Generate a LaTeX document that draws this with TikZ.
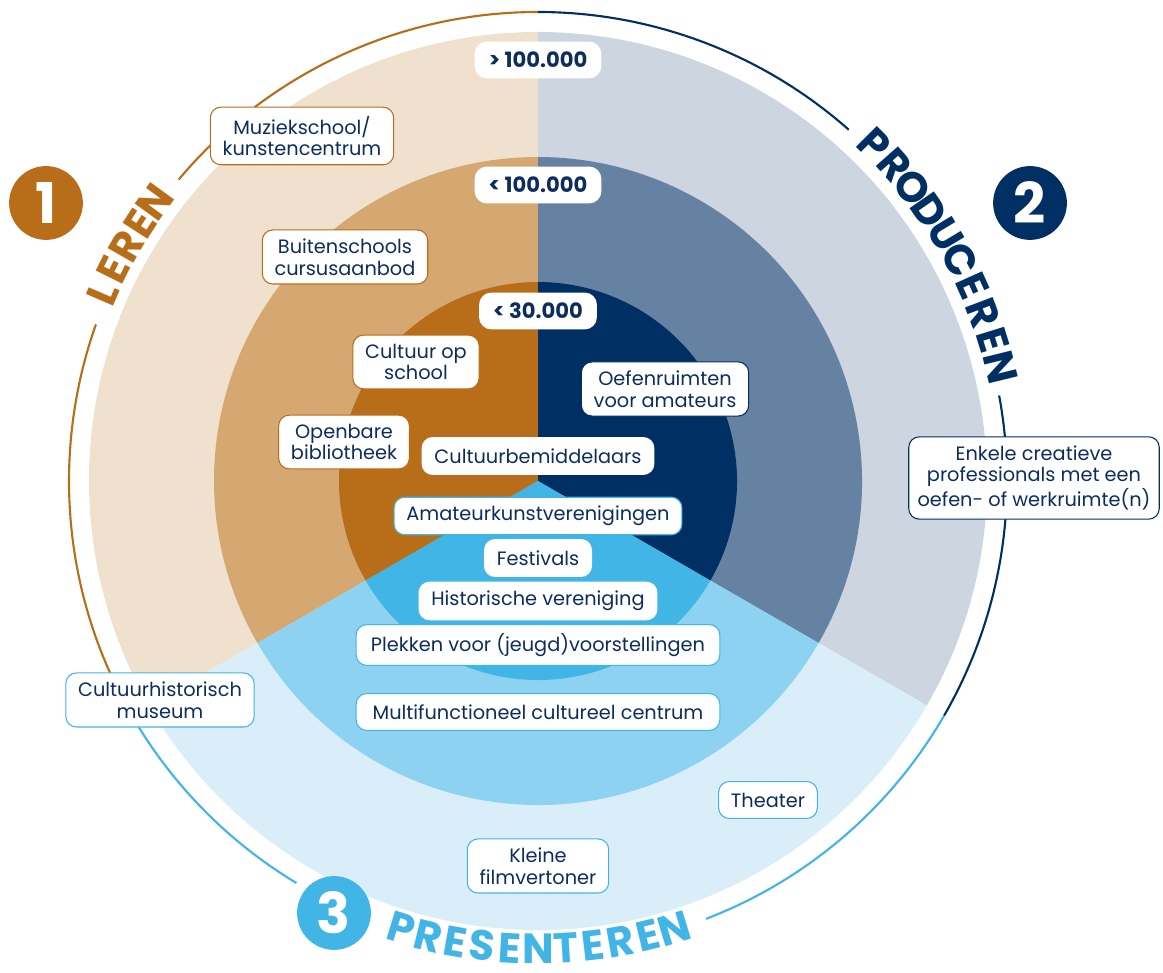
\documentclass[tikz,border=0pt]{standalone}
\usepackage{fontspec}
\setmainfont{Poppins}
\usepackage{xcolor}
\usepackage{tikz}

\definecolor{lerenD}{HTML}{B86D18}
\definecolor{lerenM}{HTML}{D5A872}
\definecolor{lerenL}{HTML}{F0E1CF}
\definecolor{prodD}{HTML}{003063}
\definecolor{prodM}{HTML}{6582A3}
\definecolor{prodL}{HTML}{CDD5E0}
\definecolor{presD}{HTML}{41B5E6}
\definecolor{presM}{HTML}{8DD2F0}
\definecolor{presL}{HTML}{D9EEF9}
\definecolor{ink}{HTML}{0D2D5E}

\begin{document}
\begin{tikzpicture}[x=0.02cm,y=0.02cm,
  tag/.style={draw=#1, fill=white, rounded corners=6pt, align=center, text=ink,
    font=\fontsize{11}{12.3}\selectfont, inner xsep=7pt, inner ysep=5pt,
    line width=0.6pt, minimum height=21pt},
  size/.style={fill=white, rounded corners=7pt, text=ink,
    font=\fontsize{12}{14}\selectfont\bfseries, inner xsep=8pt, minimum height=21pt},
  num/.style={circle, fill=#1, text=white, font=\fontsize{32}{32}\selectfont\bfseries,
    minimum size=42pt, inner sep=0pt},
  letter/.style={font=\fontsize{24}{24}\selectfont\bfseries, inner sep=0pt},
  ring/.style={line width=1.2pt}]
  \useasboundingbox (0,0) rectangle (1163,973);
  \coordinate (c) at (538,492);

  \begin{scope}[shift={(c)}]
    % outer ring
    \fill[lerenL] (0,0) -- (90:449) arc (90:210:449) -- cycle;
    \fill[prodL] (0,0) -- (-30:449) arc (-30:90:449) -- cycle;
    \fill[presL] (0,0) -- (210:449) arc (210:330:449) -- cycle;
    % middle ring
    \fill[lerenM] (0,0) -- (90:324) arc (90:210:324) -- cycle;
    \fill[prodM] (0,0) -- (-30:324) arc (-30:90:324) -- cycle;
    \fill[presM] (0,0) -- (210:324) arc (210:330:324) -- cycle;
    % core
    \fill[lerenD] (0,0) -- (90:199) arc (90:210:199) -- cycle;
    \fill[prodD] (0,0) -- (-30:199) arc (-30:90:199) -- cycle;
    \fill[presD] (0,0) -- (210:199) arc (210:330:199) -- cycle;

    % thin outer arcs
    \draw[ring, lerenD] (90:469) arc (90:140:469);
    \draw[ring, lerenD] (160.5:469) arc (160.5:210:469);
    \draw[ring, presD] (210:469) arc (210:239:469);
    \draw[ring, presD] (291:469) arc (291:330:469);
    \draw[ring, prodD] (-30:469) arc (-30:10.5:469);
    \draw[ring, prodD] (48.5:469) arc (48.5:90:469);

    % words along the ring
    \foreach \ch [count=\i from 0, evaluate=\i as \a using 156.7-3.2*\i] in {L,E,R,E,N}
      \node[letter, text=lerenD, rotate=\a-90] (leren\i) at (\a:474) {\ch};
    \foreach \ch [count=\i from 0, evaluate=\i as \a using 45-3.47*\i] in {P,R,O,D,U,C,E,R,E,N}
      \node[letter, text=prodD, rotate=\a-90] (prod\i) at (\a:476) {\ch};
    \foreach \ch [count=\i from 0, evaluate=\i as \a using 253+3.4*\i] in {P,R,E,S,E,N,T,E,R,E,N}
      \node[letter, text=presD, rotate=\a+90] (pres\i) at (\a:468) {\ch};
  \end{scope}

  \node[num=lerenD] (one) at (46,770) {1};
  \node[num=prodD] (two) at (1030,770) {2};
  \node[num=presD] (three) at (334,60) {3};

  % population sizes
  \node[size] (big) at (538,913) {> 100.000};
  \node[size] (mid) at (538,788) {< 100.000};
  \node[size] (small) at (538,662) {< 30.000};

  % leren
  \node[tag=lerenD] (muziek) at (302,837) {Muziekschool/\\kunstencentrum};
  \node[tag=lerenD] (buiten) at (345,716) {Buitenschools\\cursusaanbod};
  \node[tag=lerenD] (school) at (416,611) {Cultuur op\\school};
  \node[tag=lerenD] (biblio) at (344,531) {Openbare\\bibliotheek};
  \node[tag=white] (bemid) at (538,517) {Cultuurbemiddelaars};

  % produceren
  \node[tag=prodD] (oefen) at (665,584) {Oefenruimten\\voor amateurs};
  \node[tag=prodD, inner xsep=5pt] (enkele) at (1034,495) {Enkele creatieve\\professionals met een\\oefen- of werkruimte(n)};

  % presenteren
  \node[tag=presD] (amateur) at (538,457) {Amateurkunstverenigingen};
  \node[tag=white] (fest) at (538,415) {Festivals};
  \node[tag=white] (histo) at (538,372) {Historische vereniging};
  \node[tag=presD, minimum width=207pt] (plek) at (538,328) {Plekken voor (jeugd)voorstellingen};
  \node[tag=presD, minimum width=207pt] (multi) at (538,261) {Multifunctioneel cultureel centrum};
  \node[tag=presD] (museum) at (160,273) {Cultuurhistorisch\\museum};
  \node[tag=presD] (theater) at (768,173) {Theater};
  \node[tag=presD] (film) at (538,107) {Kleine\\filmvertoner};
\end{tikzpicture}
\end{document}
